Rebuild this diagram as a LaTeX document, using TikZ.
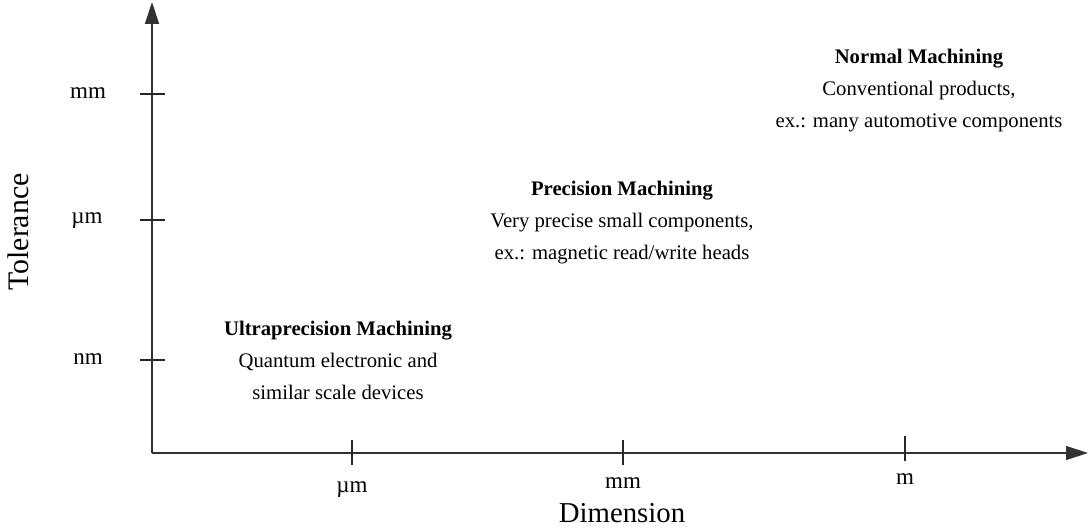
\documentclass[tikz,border=0pt]{standalone}
\usepackage{fontspec}
\setmainfont{Liberation Serif}
\usetikzlibrary{arrows.meta}
\begin{document}
\begin{tikzpicture}[x=1pt,y=-1pt,
  axis/.style={line width=1.3pt,color=black!80,-{Triangle[length=22pt,width=14pt]}},
  tick/.style={line width=1.8pt,color=black!85},
  ticklabel/.style={font=\fontsize{23}{26}\selectfont},
  axislabel/.style={font=\fontsize{28.8}{32}\selectfont},
  region/.style={align=center,font=\fontsize{20.7}{32}\selectfont}]
\useasboundingbox (0,0) rectangle (1090,529);
\coordinate (O) at (152,453);
\coordinate (ytip) at (152,2);
\coordinate (xtip) at (1088,453);
\draw[axis] (O) -- (ytip);
\draw[axis] (O) -- (xtip);
% y ticks
\coordinate (y1a) at (140,94);  \coordinate (y1b) at (165,94);
\coordinate (y2a) at (140,220); \coordinate (y2b) at (165,220);
\coordinate (y3a) at (140,360); \coordinate (y3b) at (165,360);
\draw[tick] (y1a) -- (y1b);
\draw[tick] (y2a) -- (y2b);
\draw[tick] (y3a) -- (y3b);
\node[ticklabel,anchor=base] (ly1) at (88,99) {mm};
\node[ticklabel,anchor=base] (ly2) at (87,224) {µm};
\node[ticklabel,anchor=base] (ly3) at (88,364) {nm};
% x ticks
\coordinate (x1a) at (352,440); \coordinate (x1b) at (352,465);
\coordinate (x2a) at (623,440); \coordinate (x2b) at (623,465);
\coordinate (x3a) at (905,436); \coordinate (x3b) at (905,461);
\draw[tick] (x1a) -- (x1b);
\draw[tick] (x2a) -- (x2b);
\draw[tick] (x3a) -- (x3b);
\node[ticklabel,anchor=base] (lx1) at (352,492) {µm};
\node[ticklabel,anchor=base] (lx2) at (623,488) {mm};
\node[ticklabel,anchor=base] (lx3) at (905,484) {m};
\node[axislabel,anchor=base] (dim) at (622,522) {Dimension};
\node[axislabel,font=\fontsize{29.8}{32}\selectfont,rotate=90] (tol) at (18,232) {Tolerance};
% regions
\node[region] (normal) at (919,91) {\textbf{Normal Machining}\\Conventional products,\\ex.: many automotive components};
\node[region] (prec) at (622,223) {\textbf{Precision Machining}\\Very precise small components,\\ex.: magnetic read/write heads};
\node[region] (ultra) at (338,360) {\textbf{Ultraprecision Machining}\\Quantum electronic and\\similar scale devices};
\end{tikzpicture}
\end{document}
